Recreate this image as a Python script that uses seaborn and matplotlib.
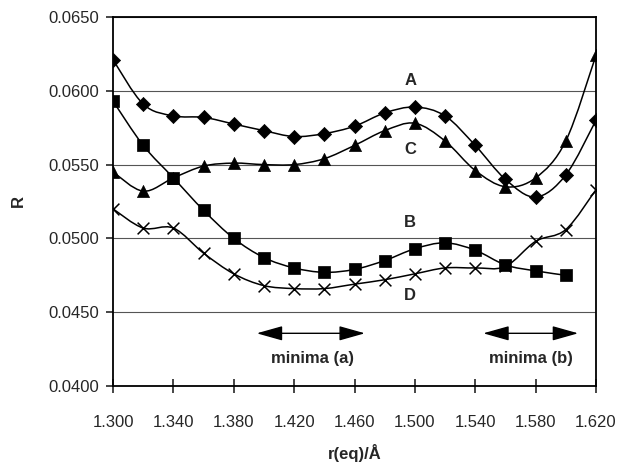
import numpy as np
import pandas as pd
import seaborn as sns
import matplotlib
matplotlib.use("Agg")
import matplotlib.pyplot as plt
from matplotlib.path import Path
from matplotlib.patches import PathPatch
from matplotlib.ticker import FixedLocator, FormatStrFormatter

r_eq = [1.30, 1.32, 1.34, 1.36, 1.38, 1.40, 1.42, 1.44, 1.46,
        1.48, 1.50, 1.52, 1.54, 1.56, 1.58, 1.60, 1.62]

R_A = [0.0621, 0.0591, 0.0583, 0.0582, 0.05775, 0.0573, 0.0569, 0.0571, 0.0576,
       0.0585, 0.0589, 0.0583, 0.0563, 0.0540, 0.0528, 0.0543, 0.0580]
R_B = [0.0593, 0.0563, 0.0541, 0.0519, 0.0500, 0.0487, 0.0480, 0.0477, 0.0479,
       0.0485, 0.0493, 0.0497, 0.0492, 0.0482, 0.0478, 0.0475]
R_C = [0.0545, 0.0532, 0.0541, 0.0549, 0.0551, 0.0550, 0.0550, 0.0554, 0.0563,
       0.0573, 0.0578, 0.0566, 0.0546, 0.0535, 0.0541, 0.0566, 0.0624]
R_D = [0.0520, 0.0507, 0.0507, 0.0490, 0.0476, 0.0468, 0.0466, 0.0466, 0.0469,
       0.0472, 0.0476, 0.0480, 0.0480, 0.0481, 0.0498, 0.0506, 0.0533]

x_ticks = [1.300, 1.340, 1.380, 1.420, 1.460, 1.500, 1.540, 1.580, 1.620]
y_ticks = [0.0400, 0.0450, 0.0500, 0.0550, 0.0600, 0.0650]

series = {"A": R_A, "B": R_B, "C": R_C, "D": R_D}
markers = {"A": "D", "B": "s", "C": "^", "D": "x"}
sizes = {"A": 52, "B": 66, "C": 76, "D": 72}

rows = []
for name, vals in series.items():
    for x, y in zip(r_eq, vals):
        rows.append({"series": name, "r": x, "R": y})
df = pd.DataFrame(rows)

sns.set_style("white")
plt.rcParams["font.family"] = ["Liberation Sans", "DejaVu Sans"]
plt.rcParams["font.size"] = 12

fig = plt.figure(figsize=(6.19, 4.63), dpi=100)
ax = fig.add_axes([0.1826, 0.1663, 0.7802, 0.797])


def smooth_path(xs, ys):
    # Catmull-Rom through the points, drawn as cubic Bezier segments
    pts = np.column_stack([xs, ys])
    verts = [pts[0]]
    codes = [Path.MOVETO]
    n = len(pts)
    for i in range(n - 1):
        p0 = pts[max(i - 1, 0)]
        p1 = pts[i]
        p2 = pts[i + 1]
        p3 = pts[min(i + 2, n - 1)]
        c1 = p1 + (p2 - p0) / 6.0
        c2 = p2 - (p3 - p1) / 6.0
        verts += [c1, c2, p2]
        codes += [Path.CURVE4] * 3
    return Path(verts, codes)


for name in series:
    sub = df[df["series"] == name]
    ax.add_patch(PathPatch(smooth_path(sub["r"].values, sub["R"].values),
                           fill=False, edgecolor="black", lw=1.1, zorder=3))
    if markers[name] == "x":
        sns.scatterplot(data=sub, x="r", y="R", marker="x", s=sizes[name],
                        color="black", linewidth=1.1, ax=ax, zorder=4)
    else:
        sns.scatterplot(data=sub, x="r", y="R", marker=markers[name],
                        s=sizes[name], color="black", edgecolor="black",
                        linewidth=0.5, ax=ax, zorder=4)

ax.set_xlim(1.300, 1.620)
ax.set_ylim(0.0400, 0.0650)
ax.xaxis.set_major_locator(FixedLocator(x_ticks))
ax.yaxis.set_major_locator(FixedLocator(y_ticks))
ax.xaxis.set_major_formatter(FormatStrFormatter("%.3f"))
ax.yaxis.set_major_formatter(FormatStrFormatter("%.4f"))
ax.yaxis.grid(True, color="#555555", lw=0.8)
ax.set_axisbelow(True)
for sp in ax.spines.values():
    sp.set_color("black")
    sp.set_linewidth(1.3)
ax.tick_params(axis="x", direction="inout", length=10, width=1.2,
               pad=16, labelsize=12, bottom=True)
ax.tick_params(axis="y", direction="out", length=5, width=1.2,
               pad=5, labelsize=12, left=True)

ax.set_xlabel("r(eq)/Å", fontweight="bold", fontsize=12, labelpad=10)
ax.set_ylabel("R", fontweight="bold", fontsize=12, labelpad=16)

for name, (tx, ty) in {"A": (1.497, 0.0607), "C": (1.497, 0.0560),
                       "B": (1.497, 0.0511), "D": (1.497, 0.0461)}.items():
    ax.text(tx, ty, name, fontweight="bold", fontsize=12,
            ha="center", va="center", zorder=5)

arrow = dict(arrowstyle="<|-|>,head_length=1.6,head_width=0.45",
             color="black", lw=1.0, mutation_scale=10, shrinkA=0, shrinkB=0)
ax.annotate("", xy=(1.3952, 0.04357), xytext=(1.4669, 0.04357),
            arrowprops=arrow)
ax.annotate("", xy=(1.5453, 0.04357), xytext=(1.6082, 0.04357),
            arrowprops=arrow)
ax.text(1.4325, 0.04183, "minima (a)", fontweight="bold", fontsize=12,
        ha="center", va="center")
ax.text(1.5772, 0.04188, "minima (b)", fontweight="bold", fontsize=12,
        ha="center", va="center")

fig.savefig("out.png", dpi=100)
